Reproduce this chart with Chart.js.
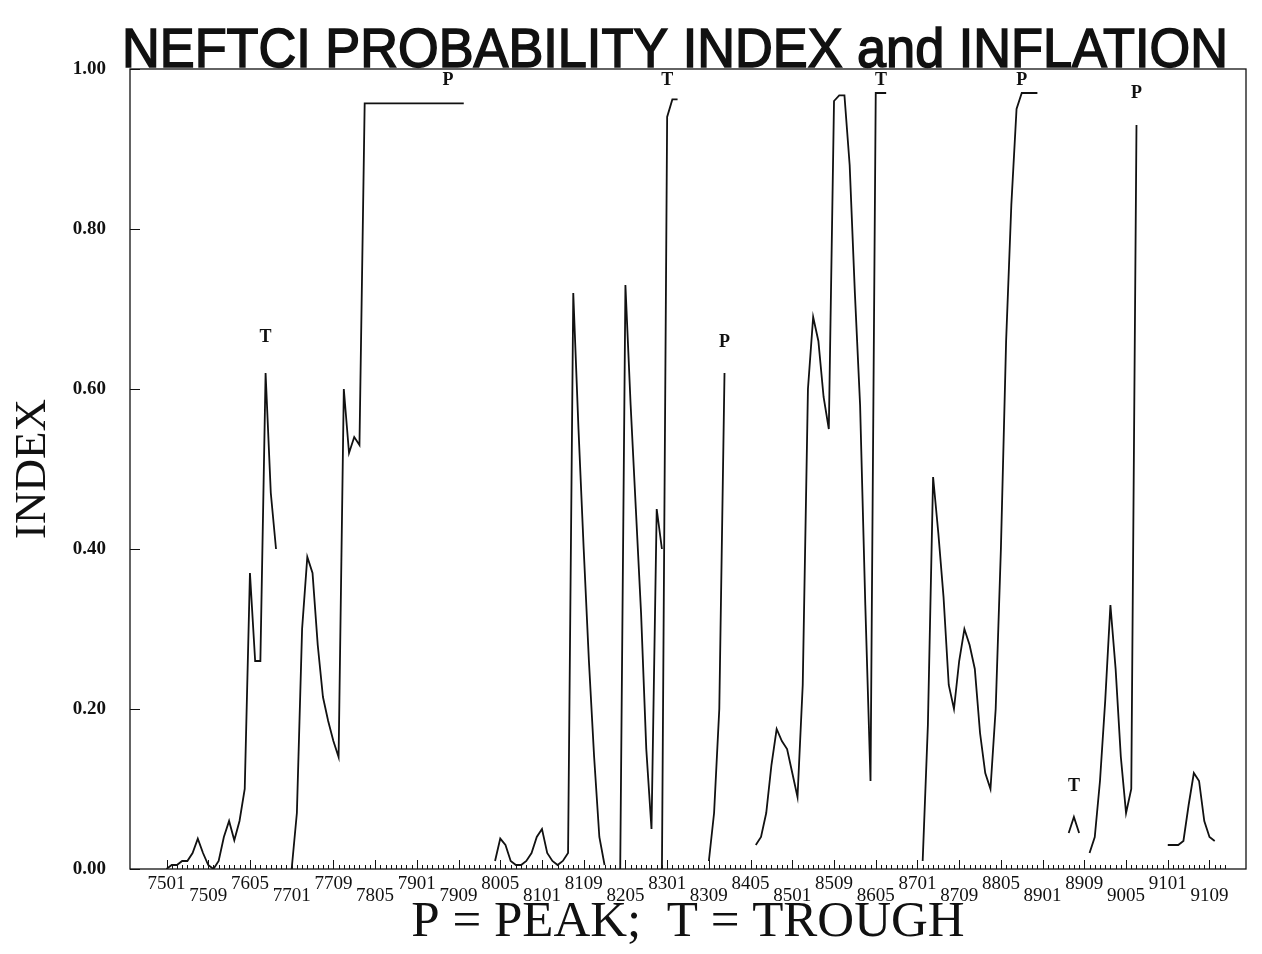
<!DOCTYPE html>
<html>
<head>
<meta charset="utf-8">
<title>Neftci probability index and inflation</title>
<script src="https://cdn.jsdelivr.net/npm/chart.js@4.4.1/dist/chart.umd.min.js"></script>
<style>
  html, body { margin: 0; padding: 0; background: #fff; }
</style>
</head>
<body>
<canvas id="chart" width="1262" height="954"></canvas>
<script>
// month codes are YYMM; the x axis counts months from 7501
const xTickLabels = ['7501', '7509', '7605', '7701', '7709', '7805', '7901', '7909', '8005', '8101',
  '8109', '8205', '8301', '8309', '8405', '8501', '8509', '8605', '8701', '8709',
  '8805', '8901', '8909', '9005', '9101', '9109']
const yTicks = [0, 0.2, 0.4, 0.6, 0.8, 1.0]

// each run of the index is read monthly, starting at the month in its name
const run7501 = [0.00, 0.005, 0.005, 0.01, 0.01, 0.02, 0.038, 0.02, 0.005, 0.00,
  0.01, 0.04, 0.06, 0.036, 0.06, 0.10, 0.37, 0.26, 0.26, 0.62, 0.47, 0.40]
const run7701 = [0.00, 0.07, 0.30, 0.39, 0.37, 0.28, 0.215, 0.185, 0.16, 0.14,
  0.60, 0.52, 0.54, 0.53, 0.957, 0.957, 0.957, 0.957, 0.957, 0.957,
  0.957, 0.957, 0.957, 0.957, 0.957, 0.957, 0.957, 0.957, 0.957, 0.957,
  0.957, 0.957, 0.957, 0.957]
const run8004 = [0.01, 0.038, 0.03, 0.01, 0.005, 0.005, 0.01, 0.02, 0.04, 0.05,
  0.02, 0.01, 0.005, 0.01, 0.02, 0.72, 0.55, 0.40, 0.26, 0.14, 0.04, 0.005]
const run8204 = [0.00, 0.73, 0.58, 0.45, 0.32, 0.15, 0.05, 0.45, 0.40]
const run8212 = [0.00, 0.94, 0.962, 0.962]
const run8309 = [0.01, 0.07, 0.20, 0.62]
const run8406 = [0.03, 0.04, 0.07, 0.13, 0.175, 0.16, 0.15, 0.12, 0.09, 0.23,
  0.60, 0.69, 0.66, 0.59, 0.55, 0.96, 0.967, 0.967, 0.88, 0.72,
  0.58, 0.33, 0.11, 0.97, 0.97, 0.97]
const run8702 = [0.01, 0.18, 0.49, 0.42, 0.34, 0.23, 0.20, 0.26, 0.30, 0.28,
  0.25, 0.17, 0.12, 0.10, 0.20, 0.40, 0.66, 0.83, 0.95, 0.97,
  0.97, 0.97, 0.97]
const run8906 = [0.045, 0.065, 0.045]
const run8910 = [0.02, 0.04, 0.11, 0.21, 0.33, 0.25, 0.14, 0.07, 0.10, 0.93]
const run9101 = [0.03, 0.03, 0.03, 0.035, 0.08, 0.12, 0.11, 0.06, 0.04, 0.035]

const runs = [
  ['7501', run7501], ['7701', run7701], ['8004', run8004], ['8204', run8204],
  ['8212', run8212], ['8309', run8309], ['8406', run8406], ['8702', run8702],
  ['8906', run8906], ['8910', run8910], ['9101', run9101]
]

// peak / trough marks written on the chart
const markerText = ['T', 'P', 'T', 'P', 'T', 'P', 'P', 'T']
const markerMonth = ['7608', '7907', '8301', '8312', '8606', '8809', '9007', '8907']
const markerLevel = [0.664, 0.986, 0.986, 0.658, 0.986, 0.986, 0.97, 0.103]

const titleText = 'NEFTCI PROBABILITY INDEX and INFLATION'

const monthIndex = (code) => {
  const yy = parseInt(code.slice(0, 2), 10)
  const mm = parseInt(code.slice(2), 10)
  return (yy - 75) * 12 + (mm - 1)
}

const datasets = runs.map(([start, values]) => {
  const m0 = monthIndex(start)
  return {
    label: 'run ' + start,
    data: values.map((v, i) => ({ x: m0 + i, y: v })),
    borderColor: '#111',
    borderWidth: 1.8,
    pointRadius: 0,
    fill: false,
    tension: 0
  }
})

// frame, inward ticks, P/T marks and the headline
const decorations = {
  id: 'decorations',
  afterDraw(chart) {
    const ctx = chart.ctx
    const area = chart.chartArea
    const xs = chart.scales.x
    const ys = chart.scales.y
    ctx.save()
    ctx.strokeStyle = '#111'
    ctx.lineWidth = 1.3
    ctx.strokeRect(area.left, area.top, area.right - area.left, area.bottom - area.top)

    ctx.lineWidth = 1
    ctx.beginPath()
    for (let m = 0; m <= 203; m++) {
      const px = Math.round(xs.getPixelForValue(m)) + 0.5
      const len = m % 8 === 0 ? 9 : 4
      ctx.moveTo(px, area.bottom)
      ctx.lineTo(px, area.bottom - len)
    }
    yTicks.forEach(v => {
      const py = Math.round(ys.getPixelForValue(v)) + 0.5
      ctx.moveTo(area.left, py)
      ctx.lineTo(area.left + 10, py)
    })
    ctx.stroke()

    ctx.fillStyle = '#111'
    ctx.font = 'bold 18px "Liberation Serif"'
    ctx.textAlign = 'center'
    ctx.textBaseline = 'middle'
    markerText.forEach((t, i) => {
      ctx.fillText(t, xs.getPixelForValue(monthIndex(markerMonth[i])), ys.getPixelForValue(markerLevel[i]))
    })

    ctx.font = '56px "Liberation Sans"'
    ctx.textBaseline = 'alphabetic'
    const w = ctx.measureText(titleText).width
    ctx.translate(675, 67)
    ctx.scale(1106 / w, 1)
    ctx.lineWidth = 1.6
    ctx.fillText(titleText, 0, 0)
    ctx.strokeText(titleText, 0, 0)
    ctx.restore()
  }
}

const chart = new Chart(document.getElementById('chart').getContext('2d'), {
  type: 'line',
  data: { datasets },
  plugins: [decorations],
  options: {
    responsive: false,
    animation: false,
    devicePixelRatio: 1,
    layout: { padding: { top: 69, right: 16, left: 0, bottom: 0 } },
    plugins: {
      legend: { display: false },
      tooltip: { enabled: false }
    },
    scales: {
      x: {
        type: 'linear',
        min: -7,
        max: 207,
        afterBuildTicks: (s) => { s.ticks = xTickLabels.map(c => ({ value: monthIndex(c) })) },
        afterFit: (s) => { s.height = 85 },
        grid: { display: false },
        border: { display: false },
        ticks: {
          autoSkip: false,
          maxRotation: 0,
          padding: 1,
          color: '#111',
          font: { family: 'Liberation Serif', size: 19, lineHeight: 0.63 },
          callback: (value, index) => index % 2 === 0 ? [xTickLabels[index], ''] : ['', xTickLabels[index]]
        },
        title: {
          display: true,
          text: 'P = PEAK;  T = TROUGH',
          color: '#111',
          font: { family: 'Liberation Serif', size: 51, lineHeight: 1.2 },
          padding: { top: 0, bottom: 1 }
        }
      },
      y: {
        min: 0,
        max: 1,
        afterBuildTicks: (s) => { s.ticks = yTicks.map(v => ({ value: v })) },
        afterFit: (s) => { s.width = 130 },
        grid: { display: false },
        border: { display: false },
        ticks: {
          padding: 16,
          color: '#111',
          font: { family: 'Liberation Serif', size: 19, weight: 'bold' },
          callback: (v) => v.toFixed(2)
        },
        title: {
          display: true,
          text: 'INDEX',
          color: '#111',
          font: { family: 'Liberation Serif', size: 45, lineHeight: 1.2 },
          padding: { top: 6, bottom: 0 }
        }
      }
    }
  }
})
</script>
</body>
</html>
